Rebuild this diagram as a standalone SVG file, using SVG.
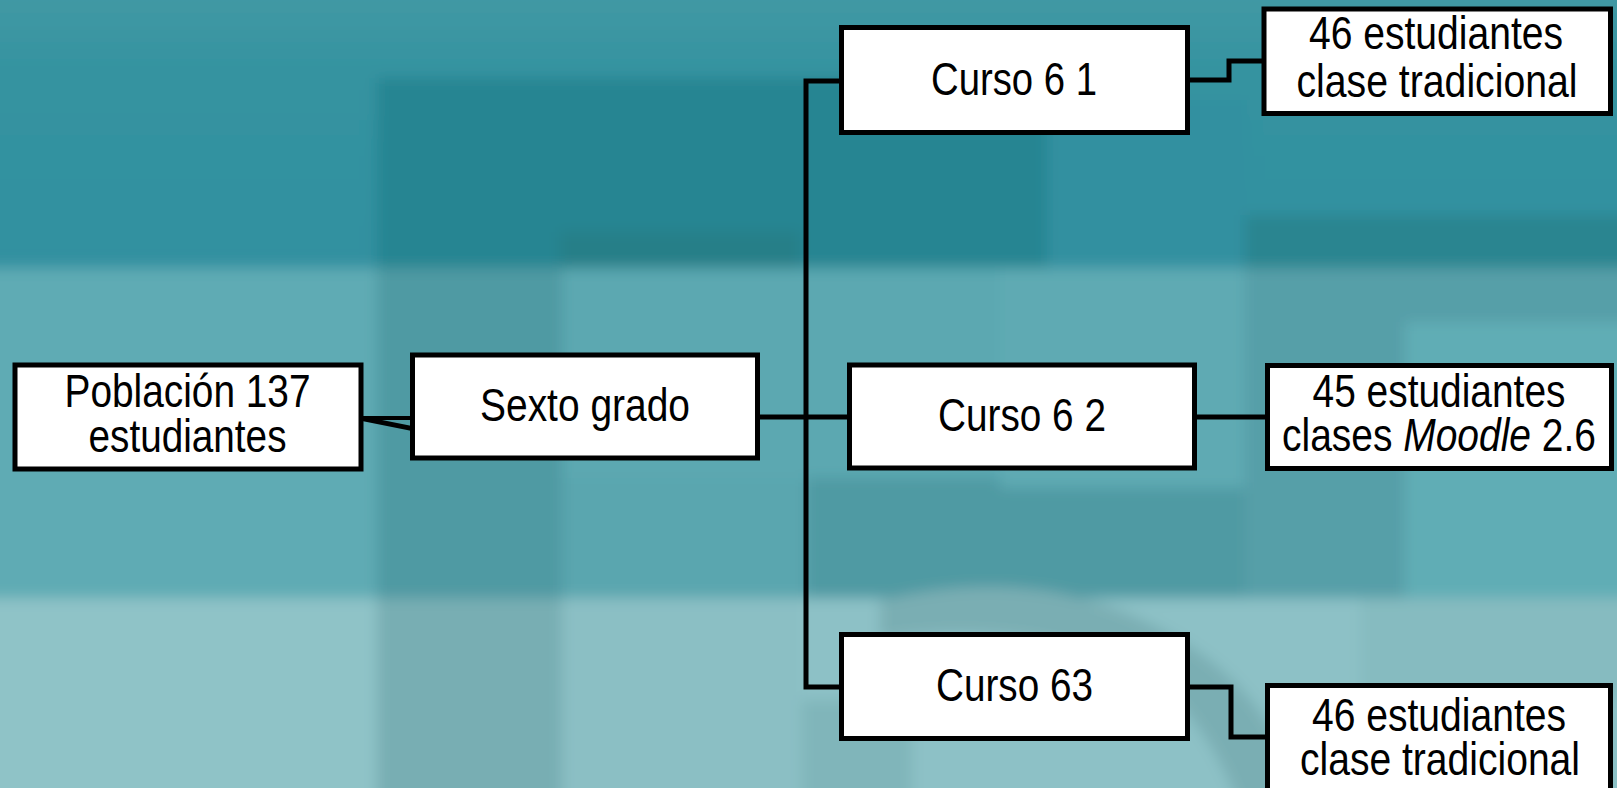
<svg xmlns="http://www.w3.org/2000/svg" width="1617" height="788" viewBox="0 0 1617 788">
<defs>
<filter id="bl" x="-5%" y="-5%" width="110%" height="110%"><feGaussianBlur stdDeviation="7"/></filter>
<linearGradient id="topg" x1="0" y1="0" x2="0" y2="1"><stop offset="0" stop-color="#449aa5"/><stop offset="0.3" stop-color="#3593a0"/><stop offset="1" stop-color="#3090a0"/></linearGradient>
</defs>
<style>
.box{fill:#ffffff;stroke:#000000;stroke-width:5;stroke-linejoin:miter}
.lbl{font-family:"Liberation Sans",Arial,sans-serif;font-size:47px;fill:#000000;text-anchor:middle}
.con{fill:none;stroke:#000000;stroke-width:5;stroke-linejoin:miter}
</style>
<g id="background">
<rect x="0" y="0" width="1617" height="788" fill="#5fabb4"/>
<g filter="url(#bl)">
<rect x="-20" y="-20" width="1660" height="290" fill="url(#topg)"/>
<rect x="377" y="78" width="670" height="190" fill="#288592"/>
<rect x="1047" y="100" width="200" height="168" fill="#3190a0"/>
<rect x="1245" y="215" width="400" height="55" fill="#2a8590"/>
<rect x="560" y="232" width="240" height="36" fill="#257f88"/>
<rect x="-20" y="268" width="400" height="330" fill="#5fabb4"/>
<rect x="377" y="268" width="185" height="330" fill="#4f9aa3"/>
<rect x="562" y="268" width="440" height="210" fill="#5ca8b1"/>
<rect x="805" y="478" width="240" height="120" fill="#4f9aa3"/>
<rect x="562" y="478" width="245" height="120" fill="#5aa6af"/>
<rect x="1000" y="268" width="250" height="220" fill="#5eaab3"/>
<rect x="1045" y="488" width="205" height="120" fill="#4f9aa3"/>
<rect x="1245" y="268" width="400" height="340" fill="#569fa8"/>
<rect x="1405" y="322" width="240" height="286" fill="#60adb5"/>
<rect x="-20" y="598" width="397" height="210" fill="#8fc3c7"/>
<rect x="377" y="598" width="185" height="210" fill="#78aeb3"/>
<rect x="562" y="598" width="240" height="210" fill="#8bbfc4"/>
<rect x="802" y="598" width="830" height="210" fill="#8dc1c6"/>
<path d="M 880 600 Q 1050 560 1180 640 Q 1280 700 1300 808 L 1240 808 Q 1200 700 1120 660 Q 1000 620 880 640 Z" fill="#7aaeb3"/>
<rect x="802" y="700" width="110" height="110" fill="#80b5ba"/>
<rect x="1360" y="598" width="270" height="100" fill="#86bbc0"/>
</g>
</g>
<g id="connectors">
<polygon points="362,416 412,416 412,420 362,420" fill="#000000"/>
<polygon points="362,416 412,426 412,431 362,421" fill="#000000"/>
<path class="con" d="M 760 417 H 849"/>
<path class="con" d="M 841 81 H 806 V 687 H 841"/>
<path class="con" d="M 1190 80 H 1229 V 61 H 1264"/>
<path class="con" d="M 1197 417 H 1267"/>
<path class="con" d="M 1190 687 H 1231 V 737 H 1267"/>
</g>
<g id="node-poblacion">
<rect class="box" x="15" y="365" width="346" height="104"/>
<text class="lbl" x="187.5" y="407" textLength="246" lengthAdjust="spacingAndGlyphs">Población 137</text>
<text class="lbl" x="187.5" y="452" textLength="198" lengthAdjust="spacingAndGlyphs">estudiantes</text>
</g>
<g id="node-sexto">
<rect class="box" x="412.5" y="355" width="345" height="103"/>
<text class="lbl" x="585" y="421" textLength="210" lengthAdjust="spacingAndGlyphs">Sexto grado</text>
</g>
<g id="node-curso61">
<rect class="box" x="841.5" y="27.5" width="346" height="105"/>
<text class="lbl" x="1014" y="95" textLength="166" lengthAdjust="spacingAndGlyphs">Curso 6 1</text>
</g>
<g id="node-curso62">
<rect class="box" x="849.5" y="365" width="345" height="103"/>
<text class="lbl" x="1022" y="431" textLength="168" lengthAdjust="spacingAndGlyphs">Curso 6 2</text>
</g>
<g id="node-curso63">
<rect class="box" x="841.5" y="634.5" width="346" height="104"/>
<text class="lbl" x="1014.5" y="701" textLength="157" lengthAdjust="spacingAndGlyphs">Curso 63</text>
</g>
<g id="node-grupo1">
<rect class="box" x="1264" y="9" width="346.5" height="104.5"/>
<text class="lbl" x="1436" y="49" textLength="254" lengthAdjust="spacingAndGlyphs">46 estudiantes</text>
<text class="lbl" x="1437" y="97" textLength="281" lengthAdjust="spacingAndGlyphs">clase tradicional</text>
</g>
<g id="node-grupo2">
<rect class="box" x="1267.5" y="365.5" width="344" height="103"/>
<text class="lbl" x="1439" y="407" textLength="253" lengthAdjust="spacingAndGlyphs">45 estudiantes</text>
<text class="lbl" x="1439" y="451" textLength="314" lengthAdjust="spacingAndGlyphs">clases <tspan font-style="italic">Moodle</tspan> 2.6</text>
</g>
<g id="node-grupo3">
<rect class="box" x="1267.5" y="685.5" width="343" height="115"/>
<text class="lbl" x="1439" y="731" textLength="254" lengthAdjust="spacingAndGlyphs">46 estudiantes</text>
<text class="lbl" x="1440" y="775" textLength="280" lengthAdjust="spacingAndGlyphs">clase tradicional</text>
</g>
</svg>
